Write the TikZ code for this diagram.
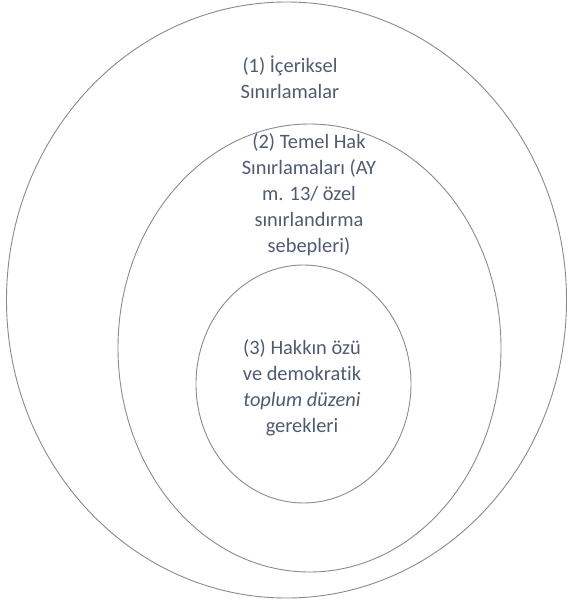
\documentclass[tikz,border=0pt]{standalone}
\usepackage{fontspec}
\setmainfont[Ligatures=NoCommon]{Carlito}
\usetikzlibrary{shapes.geometric}
\definecolor{txtc}{HTML}{4E5B70}
\definecolor{linec}{HTML}{8A8A8A}
\tikzset{
  ring/.style={draw=linec, line width=0.9pt, ellipse, inner sep=0pt},
  lbl/.style={text=txtc, align=center, inner sep=0pt, font=\fontsize{20.4}{26}\selectfont}
}
\begin{document}
\begin{tikzpicture}[x=1pt,y=1pt]
\useasboundingbox (0,0) rectangle (568,-605);
\node[ring, minimum width=560pt, minimum height=596pt] (outer) at (286.5,-300) {};
\node[ring, minimum width=383pt, minimum height=448pt] (middle) at (309.5,-348) {};
\node[ring, minimum width=215pt, minimum height=238pt] (inner) at (303.5,-384) {};
\node[lbl] (t1) at (290,-77) {(1) İçeriksel\\Sınırlamalar};
\node[lbl] (t2) at (309,-195) {(2) Temel Hak\\Sınırlamaları (AY\\m. 13/ özel\\sınırlandırma\\sebepleri)};
\node[lbl] (t3) at (302,-388) {(3) Hakkın özü\\ve demokratik\\{\itshape toplum düzeni}\\gerekleri};
\end{tikzpicture}
\end{document}
